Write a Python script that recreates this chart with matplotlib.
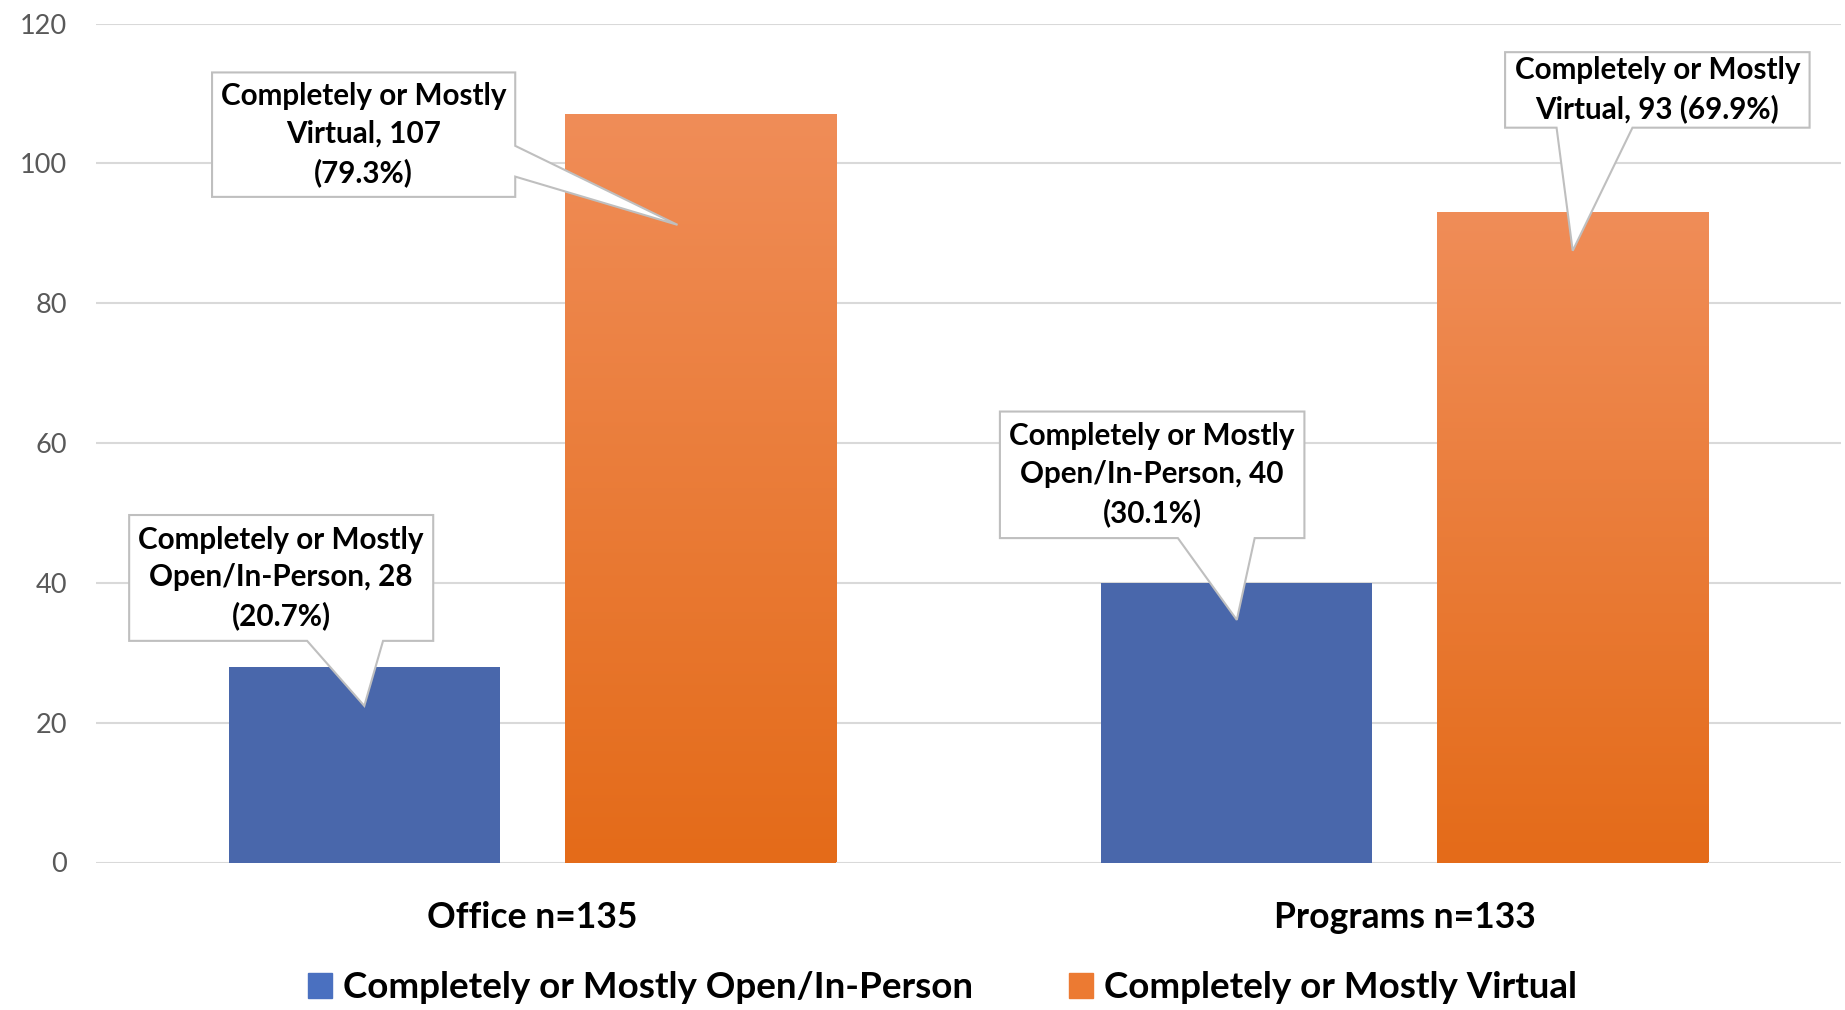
import matplotlib
matplotlib.use("Agg")
import matplotlib.pyplot as plt
import numpy as np
from matplotlib.patches import Polygon, Rectangle
from matplotlib.colors import LinearSegmentedColormap

plt.rcParams["font.family"] = ["Lato", "DejaVu Sans"]

# data
groups = ["Office", "Programs"]
group_n = [135, 133]
series = ["Completely or Mostly Open/In-Person", "Completely or Mostly Virtual"]
short = ["Open/In-Person", "Virtual"]
open_vals = [28, 40]
virtual_vals = [107, 93]

blue = "#4967AB"
orange_top = "#F08D58"
orange_bot = "#E46B19"

fig = plt.figure(figsize=(18.45, 10.10), dpi=100)
ax = fig.add_axes([96 / 1845, 147.5 / 1010, 1745 / 1845, 839 / 1010])

width = 0.311
offset = 0.1925
x = np.arange(len(groups))

# gradient for the orange bars
grad_cmap = LinearSegmentedColormap.from_list("og", [orange_bot, orange_top])
grad = np.linspace(0, 1, 256).reshape(-1, 1)

ax.bar(x - offset, open_vals, width, color=blue, zorder=2)
bars_v = ax.bar(x + offset, virtual_vals, width, color=orange_bot, zorder=2)
for b in bars_v:
    x0, y0 = b.get_x(), b.get_y()
    im = ax.imshow(grad, extent=(x0, x0 + b.get_width(), y0, y0 + b.get_height()),
                   origin="lower", aspect="auto", cmap=grad_cmap, zorder=2.5)
    im.set_clip_path(b)

ax.set_xlim(-0.5, 1.5)
ax.set_ylim(0, 120)
ax.set_yticks(np.arange(0, 121, 20))
ax.grid(axis="y", color="#D9D9D9", lw=1.5, zorder=0)
ax.set_axisbelow(True)
for s in ax.spines.values():
    s.set_visible(False)
ax.axhline(0, color="#D9D9D9", lw=2, zorder=1)
ax.tick_params(axis="y", length=0, pad=21, labelsize=19.5, labelcolor="#595959")
ax.tick_params(axis="x", length=0, pad=28)
ax.set_xticks(x)
ax.set_xticklabels([f"{g} n={n}" for g, n in zip(groups, group_n)],
                   fontsize=25.6, fontweight="bold")


def callout(box, base, tip, side, text):
    # box = (x0, x1, y0, y1); base = the two points where the pointer meets the box
    bx0, bx1, by0, by1 = box
    if side == "bottom":
        pts = [(bx0, by0), base[0], tip, base[1], (bx1, by0), (bx1, by1), (bx0, by1)]
    else:  # right
        pts = [(bx0, by0), (bx1, by0), base[1], tip, base[0], (bx1, by1), (bx0, by1)]
    ax.add_patch(Polygon(pts, closed=True, facecolor="white", edgecolor="#BFBFBF",
                         lw=1.5, zorder=5))
    ax.text((bx0 + bx1) / 2, (by0 + by1) / 2, text, ha="center", va="center",
            fontsize=21.3, fontweight="bold", linespacing=1.42, zorder=6)


# Office / open
v, n = open_vals[0], group_n[0]
callout((-0.462, -0.1135, 31.7, 49.7), [(-0.258, 31.7), (-0.171, 31.7)],
        (x[0] - offset, v - 5.6), "bottom",
        f"Completely or Mostly\n{short[0]}, {v}\n({v / n * 100:.1f}%)")
# Office / virtual
v = virtual_vals[0]
callout((-0.367, -0.0195, 95.2, 113.0), [(-0.0195, 102.5), (-0.0195, 98.1)],
        (x[0] + offset - 0.026, v - 15.8), "right",
        f"Completely or Mostly\n{short[1]}, {v}\n({v / n * 100:.1f}%)")
# Programs / open
v, n = open_vals[1], group_n[1]
callout((0.536, 0.885, 46.4, 64.5), [(0.740, 46.4), (0.828, 46.4)],
        (x[1] - offset, v - 5.3), "bottom",
        f"Completely or Mostly\n{short[0]}, {v}\n({v / n * 100:.1f}%)")
# Programs / virtual
v = virtual_vals[1]
callout((1.115, 1.464, 105.1, 115.9), [(1.174, 105.1), (1.261, 105.1)],
        (x[1] + offset, v - 5.5), "bottom",
        f"Completely or Mostly\n{short[1]}, {v} ({v / n * 100:.1f}%)")

handles = [Rectangle((0, 0), 1, 1, color="#4A70C0"),
           Rectangle((0, 0), 1, 1, color="#EC7A32")]
fig.legend(handles, series, loc="center", bbox_to_anchor=(0.511, 0.022), ncol=2,
           frameon=False, prop={"size": 26.5, "weight": "bold"},
           handlelength=0.66, handleheight=0.66, handletextpad=0.3,
           columnspacing=2.6)

fig.savefig("out.png", dpi=100)
